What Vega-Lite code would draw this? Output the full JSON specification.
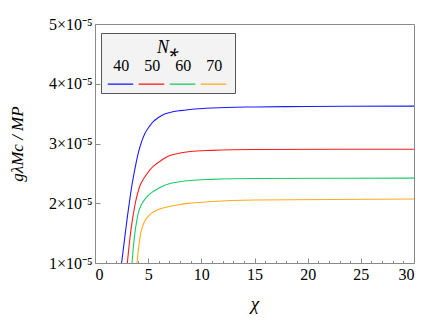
{
  "$schema": "https://vega.github.io/schema/vega-lite/v6.json",
  "width": 319,
  "height": 239,
  "autosize": "none",
  "padding": {"left": 95, "top": 24, "right": 22, "bottom": 64},
  "config": {
    "font": "Liberation Serif",
    "view": {"stroke": "#8a8a8a", "strokeWidth": 1}
  },
  "data": {
    "values": [
      {"N": "40", "x": 2.3, "y": 0.72},
      {"N": "40", "x": 2.5, "y": 1.0},
      {"N": "40", "x": 2.85, "y": 1.5},
      {"N": "40", "x": 3.05, "y": 1.78},
      {"N": "40", "x": 3.26, "y": 2.05},
      {"N": "40", "x": 3.5, "y": 2.33},
      {"N": "40", "x": 3.79, "y": 2.61},
      {"N": "40", "x": 4.11, "y": 2.87},
      {"N": "40", "x": 4.4, "y": 3.04},
      {"N": "40", "x": 4.67, "y": 3.16},
      {"N": "40", "x": 5.17, "y": 3.3},
      {"N": "40", "x": 5.5, "y": 3.37},
      {"N": "40", "x": 5.93, "y": 3.43},
      {"N": "40", "x": 6.5, "y": 3.49},
      {"N": "40", "x": 7.06, "y": 3.52},
      {"N": "40", "x": 8.0, "y": 3.55},
      {"N": "40", "x": 8.94, "y": 3.57},
      {"N": "40", "x": 11.0, "y": 3.595},
      {"N": "40", "x": 15.0, "y": 3.612},
      {"N": "40", "x": 20.0, "y": 3.62},
      {"N": "40", "x": 30.0, "y": 3.625},
      {"N": "50", "x": 2.85, "y": 0.72},
      {"N": "50", "x": 3.04, "y": 1.0},
      {"N": "50", "x": 3.2, "y": 1.28},
      {"N": "50", "x": 3.32, "y": 1.47},
      {"N": "50", "x": 3.5, "y": 1.7},
      {"N": "50", "x": 3.79, "y": 2.0},
      {"N": "50", "x": 4.0, "y": 2.16},
      {"N": "50", "x": 4.2, "y": 2.28},
      {"N": "50", "x": 4.5, "y": 2.39},
      {"N": "50", "x": 4.8, "y": 2.47},
      {"N": "50", "x": 5.17, "y": 2.56},
      {"N": "50", "x": 5.5, "y": 2.62},
      {"N": "50", "x": 5.93, "y": 2.68},
      {"N": "50", "x": 6.5, "y": 2.75},
      {"N": "50", "x": 7.06, "y": 2.8},
      {"N": "50", "x": 8.0, "y": 2.84},
      {"N": "50", "x": 8.94, "y": 2.865},
      {"N": "50", "x": 11.0, "y": 2.885},
      {"N": "50", "x": 15.0, "y": 2.9},
      {"N": "50", "x": 30.0, "y": 2.905},
      {"N": "60", "x": 3.25, "y": 0.72},
      {"N": "60", "x": 3.48, "y": 1.0},
      {"N": "60", "x": 3.6, "y": 1.25},
      {"N": "60", "x": 3.73, "y": 1.47},
      {"N": "60", "x": 3.9, "y": 1.68},
      {"N": "60", "x": 4.11, "y": 1.86},
      {"N": "60", "x": 4.35, "y": 1.97},
      {"N": "60", "x": 4.67, "y": 2.06},
      {"N": "60", "x": 5.0, "y": 2.13},
      {"N": "60", "x": 5.5, "y": 2.2},
      {"N": "60", "x": 6.11, "y": 2.265},
      {"N": "60", "x": 7.06, "y": 2.33},
      {"N": "60", "x": 8.0, "y": 2.36},
      {"N": "60", "x": 8.94, "y": 2.38},
      {"N": "60", "x": 11.0, "y": 2.4},
      {"N": "60", "x": 15.0, "y": 2.415},
      {"N": "60", "x": 30.0, "y": 2.42},
      {"N": "70", "x": 3.75, "y": 0.7},
      {"N": "70", "x": 3.95, "y": 1.0},
      {"N": "70", "x": 4.1, "y": 1.25},
      {"N": "70", "x": 4.27, "y": 1.47},
      {"N": "70", "x": 4.45, "y": 1.6},
      {"N": "70", "x": 4.67, "y": 1.7},
      {"N": "70", "x": 5.0, "y": 1.78},
      {"N": "70", "x": 5.3, "y": 1.83},
      {"N": "70", "x": 5.9, "y": 1.89},
      {"N": "70", "x": 6.59, "y": 1.93},
      {"N": "70", "x": 7.99, "y": 1.98},
      {"N": "70", "x": 8.94, "y": 2.0},
      {"N": "70", "x": 11.0, "y": 2.03},
      {"N": "70", "x": 15.0, "y": 2.055},
      {"N": "70", "x": 30.0, "y": 2.07}
    ]
  },
  "layer": [
    {
      "mark": {"type": "line", "strokeWidth": 1.1, "interpolate": "monotone", "clip": true},
      "encoding": {
        "x": {
          "field": "x", "type": "quantitative",
          "scale": {"domain": [0, 30], "nice": false},
          "axis": {
            "orient": "bottom",
            "values": [0, 5, 10, 15, 20, 25, 30],
            "tickSize": -5, "tickColor": "#8a8a8a", "domain": false, "grid": false,
            "labelFont": "Liberation Serif", "labelFontSize": 16, "labelColor": "black", "labelPadding": 8,
            "title": "χ", "titleFont": "Liberation Serif", "titleFontSize": 19, "titleFontStyle": "italic", "titleFontWeight": "normal", "titleColor": "black", "titlePadding": 12
          }
        },
        "y": {
          "field": "y", "type": "quantitative",
          "scale": {"domain": [1, 5], "nice": false, "zero": false},
          "axis": {
            "values": [1, 2, 3, 4, 5],
            "labelExpr": "datum.value + '×10⁻⁵'",
            "tickSize": -5, "tickColor": "#8a8a8a", "domain": false, "grid": false,
            "labelFont": "Liberation Serif", "labelFontSize": 16, "labelColor": "black", "labelPadding": 8,
            "title": "gλMc / MP", "titleFont": "Liberation Serif", "titleFontSize": 17, "titleFontStyle": "italic", "titleFontWeight": "normal", "titleColor": "black", "titlePadding": 22
          }
        },
        "color": {
          "field": "N", "type": "nominal",
          "scale": {"domain": ["40", "50", "60", "70"], "range": ["#1a1aff", "#ff1a1a", "#19cc66", "#ffaa1a"]},
          "legend": {
            "orient": "none", "legendX": 6, "legendY": 9, "direction": "horizontal",
            "title": "N⁎", "titleFont": "Liberation Serif", "titleFontStyle": "italic", "titleFontSize": 18, "titleFontWeight": "normal", "titleAnchor": "middle", "titleColor": "black", "titlePadding": 0,
            "symbolType": "M-1,1.05H1", "symbolSize": 650, "symbolStrokeWidth": 1.3,
            "labelAlign": "center", "labelOffset": -12.75, "labelBaseline": "alphabetic", "labelFont": "Liberation Serif", "labelFontSize": 16, "labelColor": "black",
            "columnPadding": 0, "padding": 6, "fillColor": "#f3f3f3", "strokeColor": "#555555", "cornerRadius": 0
          }
        }
      }
    },
    {
      "mark": {"type": "rule", "opacity": 0},
      "encoding": {
        "x": {
          "field": "x", "type": "quantitative",
          "axis": {
            "orient": "bottom",
            "values": [1, 2, 3, 4, 6, 7, 8, 9, 11, 12, 13, 14, 16, 17, 18, 19, 21, 22, 23, 24, 26, 27, 28, 29],
            "tickSize": -2.5, "tickColor": "#8a8a8a", "labels": false, "domain": false, "grid": false, "title": null
          }
        }
      }
    }
  ],
  "resolve": {"axis": {"x": "independent"}}
}
